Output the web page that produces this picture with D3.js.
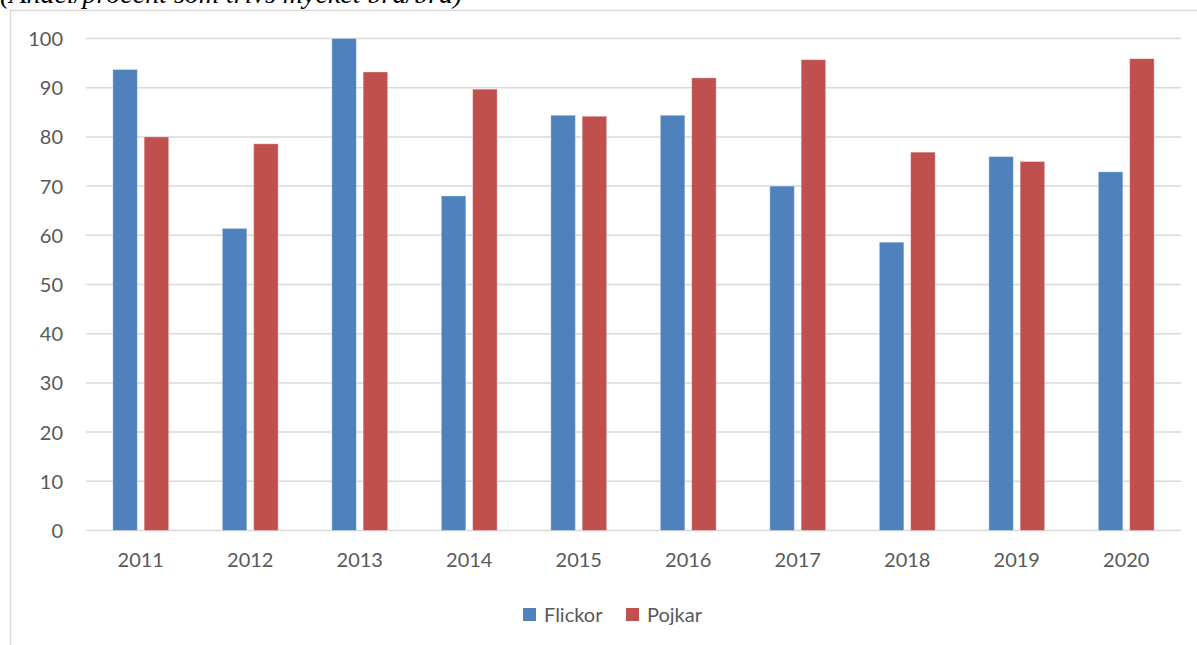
<!DOCTYPE html>
<html>
<head>
<meta charset="utf-8">
<script src="https://cdn.jsdelivr.net/npm/d3@7"></script>
<style>
	body { margin: 0; background: #fff; }
	svg { display: block; }
</style>
</head>
<body>
<svg id="chart"></svg>
<script>
var w = 1197;
var h = 645;

// data
var years = ["2011", "2012", "2013", "2014", "2015", "2016", "2017", "2018", "2019", "2020"];
var series = ["Flickor", "Pojkar"];
var flickor = [93.7, 61.4, 100, 68.0, 84.4, 84.4, 70.0, 58.6, 76.0, 72.9];
var pojkar = [80.0, 78.6, 93.2, 89.7, 84.2, 92.0, 95.7, 76.9, 75.0, 95.9];
var yTicks = [0, 10, 20, 30, 40, 50, 60, 70, 80, 90, 100];
var colors = ["#4F81BD", "#C0504D"];

var svg = d3.select("#chart")
	.attr("width", w)
	.attr("height", h);

// chart frame
svg.append("rect")
	.attr("x", 10.5)
	.attr("y", 10.5)
	.attr("width", w + 10)
	.attr("height", h + 10)
	.attr("fill", "none")
	.attr("stroke", "#D9D9D9")
	.attr("stroke-width", 1.5);

// title, cut off at the top of the page
svg.append("text")
	.attr("x", 0)
	.attr("y", 3)
	.attr("font-family", "Liberation Serif, Times New Roman, serif")
	.attr("font-style", "italic")
	.attr("font-size", 28)
	.attr("fill", "#000")
	.text("(Andel/procent som trivs mycket bra/bra)");

var plotL = 86, plotR = 1181, plotT = 38.5, plotB = 530.5;

var y = d3.scaleLinear().domain([0, 100]).range([plotB, plotT]);

var x0 = d3.scaleBand()
	.domain(years)
	.range([plotL, plotR])
	.paddingInner(0.49)
	.paddingOuter(0.245);

var x1 = d3.scaleBand()
	.domain(series)
	.range([0, x0.bandwidth()])
	.paddingInner(0.217);

// gridlines
svg.append("g")
	.selectAll("line")
	.data(yTicks)
	.enter().append("line")
	.attr("x1", plotL)
	.attr("x2", plotR)
	.attr("y1", d => y(d))
	.attr("y2", d => y(d))
	.attr("stroke", "#D9D9D9")
	.attr("stroke-width", 1.5);

// y axis labels
var yAxis = d3.axisLeft(y).tickValues(yTicks).tickSize(0).tickPadding(0);
var yg = svg.append("g")
	.attr("transform", "translate(63,0)")
	.call(yAxis);
yg.select(".domain").remove();
yg.selectAll("text")
	.attr("font-family", "Lato, Carlito, sans-serif")
	.attr("font-size", 20)
	.attr("fill", "#595959")
	.attr("dy", "0.35em");

// x axis labels
var xAxis = d3.axisBottom(x0).tickSize(0).tickPadding(0);
var xg = svg.append("g")
	.attr("transform", "translate(0," + 560 + ")")
	.call(xAxis);
xg.select(".domain").remove();
xg.selectAll("text")
	.attr("font-family", "Lato, Carlito, sans-serif")
	.attr("font-size", 20)
	.attr("fill", "#595959")
	.attr("dy", "0.35em");

// bars
var rows = years.map((yr, i) => ({ year: yr, values: [flickor[i], pojkar[i]] }));

var groups = svg.append("g")
	.selectAll("g")
	.data(rows)
	.enter().append("g")
	.attr("transform", d => "translate(" + x0(d.year) + ",0)");

groups.selectAll("rect")
	.data(d => d.values.map((v, j) => ({ key: series[j], value: v, j: j })))
	.enter().append("rect")
	.attr("x", d => x1(d.key))
	.attr("width", x1.bandwidth())
	.attr("y", d => y(d.value))
	.attr("height", d => y(0) - y(d.value))
	.attr("fill", d => colors[d.j])
	.attr("stroke", "#fff")
	.attr("stroke-opacity", 0.35)
	.attr("stroke-width", 1);

// legend
var legend = svg.append("g")
	.selectAll("g")
	.data(series)
	.enter().append("g")
	.attr("transform", (d, i) => "translate(" + [523, 626][i] + ",608)");

legend.append("rect")
	.attr("width", 13)
	.attr("height", 13)
	.attr("fill", (d, i) => colors[i]);

legend.append("text")
	.attr("x", 21)
	.attr("y", 7)
	.attr("dy", "0.35em")
	.attr("font-family", "Lato, Carlito, sans-serif")
	.attr("font-size", 20)
	.attr("fill", "#595959")
	.text(d => d);
</script>
</body>
</html>
